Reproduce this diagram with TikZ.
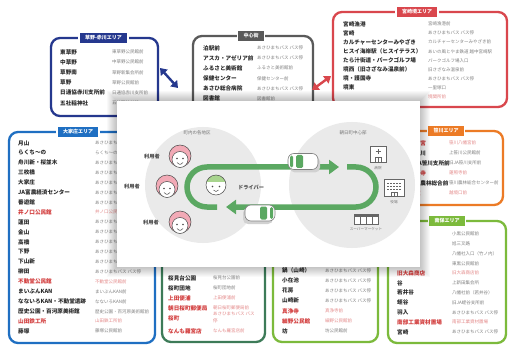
\documentclass[tikz,border=0pt]{standalone}
\usepackage{fontspec}
\setmainfont{Noto Sans CJK JP}
\newfontfamily\jp{Noto Sans CJK JP}
\usetikzlibrary{arrows.meta}

\definecolor{kblue}{HTML}{25388E}
\definecolor{cgray}{HTML}{5A5A5A}
\definecolor{mred}{HTML}{D9474D}
\definecolor{oblue}{HTML}{1F6FC2}
\definecolor{sorange}{HTML}{EC7B26}
\definecolor{dgreen}{HTML}{3D7B58}
\definecolor{lgreen}{HTML}{7CBA3C}
\definecolor{ink}{HTML}{2B2B2B}
\definecolor{nred}{HTML}{D23C3C}
\definecolor{trk}{HTML}{5BA862}
\definecolor{disc}{HTML}{EAEAEA}
\definecolor{pinkhair}{HTML}{F2AAB6}
\definecolor{greenhair}{HTML}{A8D48E}
\definecolor{pen}{HTML}{4A4A4A}

\tikzset{
  area/.style={draw=#1, line width=2.3pt, rounded corners=9pt, fill=white},
  tab/.style={fill=#1, draw=white, line width=1.2pt, text=white,
    font=\jp\bfseries\fontsize{5}{5}\selectfont, inner xsep=6pt, inner ysep=0pt,
    minimum height=11pt},
  nm/.style={anchor=west, inner sep=0pt, font=\jp\bfseries\fontsize{5.6}{6}\selectfont},
  nt/.style={anchor=west, inner sep=0pt, font=\jp\fontsize{4.5}{5}\selectfont},
  linkarrow/.style={line width=2.4pt,
    {Triangle[width=9pt,length=6.5pt]}-{Triangle[width=9pt,length=6.5pt]}},
  track/.style={trk, line width=5.5pt, rounded corners=20pt,
    -{Triangle[width=14pt,length=10pt]}},
  who/.style={font=\jp\bfseries\fontsize{5.2}{6}\selectfont, text=ink!85, inner sep=0pt},
  place/.style={font=\jp\fontsize{4.5}{5}\selectfont, text=black!55, inner sep=0pt},
  tiny/.style={font=\jp\fontsize{3.6}{4}\selectfont, text=black!55, inner sep=0pt},
  icon/.style={draw=black!60, line width=.7pt},
  userface/.pic={
    \fill[pinkhair, draw=pen, line width=.5pt] (0,-1) circle (11);
    \draw[pen, fill=white, line width=.5pt] (0,2.5) circle (8);
    \fill[pen] (-3,1.5) circle (.8) (3,1.5) circle (.8);
    \draw[pen, line width=.5pt] (-3,5.5) .. controls (0,8) .. (3,5.5);
  },
  driverface/.pic={
    \fill[white] (0,0) circle (10);
    \begin{scope}
      \clip (0,0) circle (10);
      \fill[greenhair] (-10,-10) rectangle (10,-3);
    \end{scope}
    \draw[pen, line width=.5pt] (0,0) circle (10);
    \fill[pen] (-3.5,1.5) circle (.8) (3.5,1.5) circle (.8);
    \draw[pen, line width=.5pt] (-2.5,5) .. controls (0,7) .. (2.5,5);
  },
  car/.pic={
    \fill[black!18, rounded corners=5pt] (-13,-5) rectangle (17,11);
    \draw[black!50, fill=white, line width=.6pt, rounded corners=6pt] (-15,-8) rectangle (15,8);
    \fill[trk, rounded corners=1.5pt] (-13,-6) rectangle (-10,6);
    \fill[trk, rounded corners=1.5pt] (-7,-6.5) rectangle (0,6.5);
  },
}

\begin{document}
\begin{tikzpicture}[x=1pt,y=-1pt]
\useasboundingbox (0,0) rectangle (510,347);
\fill[white] (0,0) rectangle (510,347);

% 草野-赤川
\draw[area=kblue] (51,38) rectangle (158,116);
\node[tab=kblue] (t-kusano) at (103.5,38) {草野-赤川エリア};
\foreach \a/\b/\c [count=\i from 0] in {
  東草野/東草野公民館前/ink, 中草野/中草野公民館前/ink, 草野南/草野新集会所前/ink,
  草野/草野公民館前/ink, 日通協赤川支所前/日通協赤川支所前/ink, 五社稲神社/五社稲神社前/ink}{
  \node[nm, text=\c] (kus-\i) at (60,{52+10.2*\i}) {\a};
  \node[nt, text=\c!60] (kusn-\i) at (112,{52+10.2*\i}) {\b};
}

% 中心街
\draw[area=cgray] (193,36) rectangle (313,140);
\node[tab=cgray] (t-center) at (251,36) {中心街};
\foreach \a/\b/\c [count=\i from 0] in {
  泊駅前/あさひまちバス バス停/ink, アスカ・アゼリア前/あさひまちバス バス停/ink,
  ふるさと美術館/ふるさと美術館前/ink, 保健センター/保健センター前/ink,
  あさひ総合病院/あさひまちバス バス停/ink, 図書館/図書館前/ink}{
  \node[nm, text=\c] (cen-\i) at (203,{48+10.1*\i}) {\a};
  \node[nt, text=\c!60] (cenn-\i) at (257,{48+10.1*\i}) {\b};
}

% 宮崎境
\draw[area=mred] (333,12) rectangle (507,107);
\node[tab=mred] (t-miyazaki) at (417,12) {宮崎境エリア};
\foreach \a/\b/\c [count=\i from 0] in {
  宮崎漁港/宮崎漁港前/ink, 宮崎/あさひまちバス バス停/ink,
  カルチャーセンターみやざき/カルチャーセンターみやざき前/ink,
  ヒスイ海岸駅（ヒスイテラス）/あいの風とやま鉄道 越中宮崎駅/ink,
  たら汁街道・パークゴルフ場/パークゴルフ場入口/ink,
  境西（旧さざなみ温泉前）/旧さざなみ温泉前/ink,
  境・護国寺/あさひまちバス バス停/ink, 境東/一里塚口/ink}{
  \node[nm, text=\c] (miy-\i) at (343,{24+9.1*\i}) {\a};
  \node[nt, text=\c!60] (miyn-\i) at (428,{24+9.1*\i}) {\b};
}
\node[nt, text=nred!60] (miyn-8) at (428,96.8) {境関所前};

% 大家庄
\draw[area=oblue] (9,132) rectangle (155,343);
\node[tab=oblue] (t-oyake) at (78,132) {大家庄エリア};
\foreach \a/\b/\c [count=\i from 0] in {
  月山/あさひまちバス バス停/ink, らくち〜の/らくち〜の前/ink,
  舟川新・桜並木/あさひまちバス バス停/ink, 三枚橋/あさひまちバス バス停/ink,
  大家庄/あさひまちバス バス停/ink, JA富農経済センター/あさひまちバス バス停/ink,
  番遊館/あさひまちバス バス停/ink, 井ノ口公民館/井ノ口公民館前/nred,
  蓮田/あさひまちバス バス停/ink, 金山/あさひまちバス バス停/ink,
  高橋/あさひまちバス バス停/ink, 下野/あさひまちバス バス停/ink,
  下山新/あさひまちバス バス停/ink, 柳田/あさひまちバス バス停/ink,
  不動堂公民館/不動堂公民館前/nred, まいぶんKAN/まいぶんKAN前/ink,
  なないろKAN・不動堂遺跡/なないろKAN前/ink,
  歴史公園・百河原美術館/歴史公園・百河原美術館前/ink,
  山田鉄工所/山田鉄工所前/nred, 藤塚/藤塚公民館前/ink}{
  \node[nm, text=\c] (oya-\i) at (18,{143+9.9*\i}) {\a};
  \node[nt, text=\c!60] (oyan-\i) at (95,{143+9.9*\i}) {\b};
}

% 桜町
\draw[area=dgreen] (162,150) rectangle (265,342);
\foreach \a/\b/\c/\y [count=\i from 0] in {
  桜見台公園/桜見台公園前/ink/278, 桜町団地/桜町団地前/ink/288,
  上田便浦/上田便浦前/nred/298, 朝日桜町郵便局/朝日桜町郵便局前/nred/308,
  なんも羅宮店/なんも羅宮店前/nred/331}{
  \node[nm, text=\c] (sak-\i) at (168,\y) {\a};
  \node[nt, text=\c!60] (sakn-\i) at (213,\y) {\b};
}
\node[nm, text=nred] (sak-5) at (168,318) {桜町};
\node[nt, text=nred!60] (sakn-5) at (213,314) {あさひまちバス バス};
\node[nt, text=nred!60] (sakn-6) at (213,321) {停};

% 山崎
\draw[area=lgreen] (273,150) rectangle (378,342);
\foreach \a/\b/\c [count=\i from 0] in {
  鍋（山崎）/あさひまちバス バス停/ink, 小在池/あさひまちバス バス停/ink,
  花房/あさひまちバス バス停/ink, 山崎新/あさひまちバス バス停/ink,
  真浄寺/真浄寺前/nred, 細野公民館/細野公民館前/nred, 坊/坊公民館前/ink}{
  \node[nm, text=\c] (yam-\i) at (282,{270.5+10.1*\i}) {\a};
  \node[nt, text=\c!60] (yamn-\i) at (325,{270.5+10.1*\i}) {\b};
}

% 笹川
\draw[area=sorange] (330,131) rectangle (503,205);
\node[tab=sorange] (t-sasa) at (446,131) {笹川エリア};
\foreach \a/\b/\c [count=\i from 0] in {
  八幡宮/笹川八幡宮前/nred, 上笹川/上笹川公民館前/ink,
  旧JA笹川支所前/旧JA笹川支所前/ink, 蓮照寺/蓮照寺前/nred,
  笹川農林総合前/笹川農林総合センター前/ink, 越境/越境口前/nred}{
  \node[nm, text=\c] (sas-\i) at (409,{143+10*\i}) {\a};
  \node[nt, text=\c!60] (sasn-\i) at (449,{143+10*\i}) {\b};
}

% 南保
\draw[area=lgreen] (388,221) rectangle (506,343);
\node[tab=lgreen] (t-nanbo) at (447,221) {南保エリア};
\foreach \a/\b/\c [count=\i from 0] in {
  小黒/小黒公民館前/ink, 旭/旭三叉路/ink, 竹ノ内/八幡社入口（竹ノ内）/ink,
  東黒/東黒公民館前/ink, 旧大森商店/旧大森商店前/nred, 谷/上新田集会所/ink,
  若井谷/八幡社前（若井谷）/ink, 蛭谷/旧JA蛭谷支所前/ink,
  羽入/あさひまちバス バス停/ink, 南部工業資材置場/南部工業資材置場/nred,
  宮崎/あさひまちバス バス停/ink}{
  \node[nm, text=\c] (nan-\i) at (397,{234+9.8*\i}) {\a};
  \node[nt, text=\c!60] (nann-\i) at (452,{234+9.8*\i}) {\b};
}

% arrows to the panel
\coordinate (ka1) at (160,68);
\coordinate (ka2) at (178,88);
\coordinate (mz1) at (331,76);
\coordinate (mz2) at (312,90);
\draw[linkarrow, kblue] (ka1) -- (ka2);
\draw[linkarrow, mred] (mz1) -- (mz2);

% panel with soft shadow
\foreach \s in {1,...,10}
  \fill[black, opacity=.025] ({117-\s},{101-\s}) rectangle ({420+\s},{267+\s});
\fill[white] (117,101) rectangle (420,267);

\fill[disc] (203,185) circle (58);
\fill[disc] (352,185) circle (63);
\node[place] (town) at (197,133) {町内の各地区};
\node[place] (core) at (353,133) {朝日町中心部};

\draw[track] (217,207) -- (187,207) -- (187,167) -- (339,167);
\draw[track] (347,167) -- (376,167) -- (376,207) -- (226,207);
\pic (car1) at (303,161.5) {car};
\pic[xscale=-1] (car2) at (260,213) {car};

\pic (u1) at (180,157) {userface};
\pic (u2) at (167,187) {userface};
\pic (u3) at (180,223) {userface};
\pic (drv) at (216,185) {driverface};
\node[who] (w1) at (152,157) {利用者};
\node[who] (w2) at (132,187) {利用者};
\node[who] (w3) at (151,223) {利用者};
\node[who] (w4) at (251,187) {ドライバー};

% hospital
\draw[icon, fill=white] (370,146) rectangle (386,162);
\draw[icon] (378,149) -- (378,154) (375.5,151.5) -- (380.5,151.5);
\draw[icon] (375,162) -- (375,157) -- (381,157) -- (381,162) (378,157) -- (378,162);
\node[tiny] (hosp) at (378,168) {病院};
% town hall
\draw[icon, fill=white] (384,179) rectangle (404,196);
\foreach \r in {183,186,189}
  \draw[black!60, line width=.5pt, dash pattern=on 2pt off 1pt] (387,\r) -- (401,\r);
\draw[icon] (391,196) -- (391,192) -- (397,192) -- (397,196) (394,192) -- (394,196);
\node[tiny] (hall) at (394,202) {役場};
% supermarket
\draw[icon, fill=white] (354,214) rectangle (378,224);
\fill[black!60] (354,214) rectangle (378,216.5);
\draw[icon] (360,216.5) -- (360,224) (366,216.5) -- (366,224) (372,216.5) -- (372,224);
\node[tiny] (shop) at (366,229) {スーパーマーケット};
\end{tikzpicture}
\end{document}
